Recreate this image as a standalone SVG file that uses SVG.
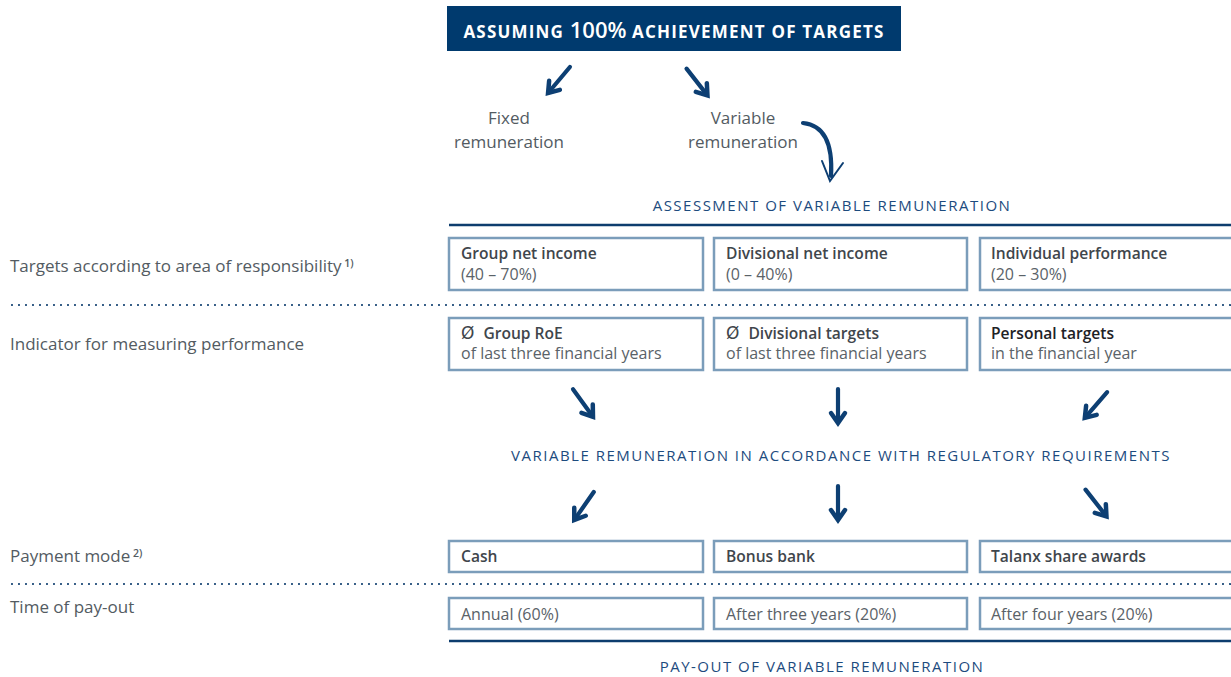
<svg xmlns="http://www.w3.org/2000/svg" width="1231" height="677" viewBox="0 0 1231 677">
<style>
text{font-family:"Open Sans","Liberation Sans",sans-serif;}
.lbl{font-size:17px;fill:#535b62;}
.bx{fill:#fff;stroke:#7b9dba;stroke-width:2.5;}
.bt{font-size:15.6px;fill:#3f464c;font-weight:600;}
.bk{font-size:15.6px;fill:#1e2226;font-weight:600;}
.rt{font-size:16px;fill:#5a6268;}
.cap{font-size:15px;fill:#1d4b7e;letter-spacing:1.5px;}
.dia{font-weight:400;font-size:17px;font-family:"DejaVu Sans",sans-serif;}
.thick{stroke:#0d3d6e;stroke-width:2.5;}
.dot{stroke:#0d3d6e;stroke-width:2.2;stroke-dasharray:0 7;stroke-linecap:round;}
.arr{fill:none;stroke:#0d3f73;stroke-width:4.2;stroke-linecap:round;stroke-linejoin:round;}
.ah{fill:none;stroke:#0d3f73;stroke-width:4.5;stroke-linecap:round;stroke-linejoin:miter;}
</style>
<defs>
<g id="harrow">
<path class="arr" d="M0,-17 L0,16"/>
<path class="ah" d="M-7,7 L0,17 L7,7"/>
</g>
</defs>
<rect width="1231" height="677" fill="#fff"/>

<g id="header">
<rect x="447" y="6" width="454" height="45" fill="#003a6e"/>
<text x="674" y="38" text-anchor="middle" font-size="17" font-weight="700" fill="#fff" letter-spacing="1.2">ASSUMING <tspan font-size="22" font-weight="600" letter-spacing="0">100%</tspan> ACHIEVEMENT OF TARGETS</text>
</g>

<g id="fixed">
<text class="lbl" x="509" y="124" text-anchor="middle" font-size="18">Fixed</text>
<text class="lbl" x="509" y="148" text-anchor="middle" font-size="18">remuneration</text>
</g>
<g id="variable">
<text class="lbl" x="743" y="124" text-anchor="middle" font-size="18">Variable</text>
<text class="lbl" x="743" y="148" text-anchor="middle" font-size="18">remuneration</text>
</g>

<g id="assessment">
<text class="cap" x="832" y="211" text-anchor="middle">ASSESSMENT OF VARIABLE REMUNERATION</text>
<line class="thick" x1="449" y1="225" x2="1231" y2="225"/>
</g>

<g id="row-labels">
<text class="lbl" x="10" y="272">Targets according to area of responsibility<tspan font-size="10.5" dy="-5" font-weight="600"> 1)</tspan></text>
<text class="lbl" x="10" y="350">Indicator for measuring performance</text>
<text class="lbl" x="10" y="562">Payment mode<tspan font-size="10.5" dy="-5" font-weight="600"> 2)</tspan></text>
<text class="lbl" x="10" y="613">Time of pay-out</text>
</g>

<g id="dividers">
<line class="dot" x1="12" y1="305" x2="1231" y2="305"/>
<line class="dot" x1="12" y1="584" x2="1231" y2="584"/>
</g>

<g id="group-net-income">
<rect class="bx" x="449" y="238" width="254" height="52"/>
<text class="bt" x="461" y="259">Group net income</text>
<text class="rt" x="461" y="280">(40 – 70%)</text>
</g>
<g id="divisional-net-income">
<rect class="bx" x="714" y="238" width="253" height="52"/>
<text class="bt" x="726" y="259">Divisional net income</text>
<text class="rt" x="726" y="280">(0 – 40%)</text>
</g>
<g id="individual-performance">
<rect class="bx" x="980" y="238" width="260" height="52"/>
<text class="bt" x="991" y="259">Individual performance</text>
<text class="rt" x="991" y="280">(20 – 30%)</text>
</g>

<g id="group-roe">
<rect class="bx" x="449" y="318" width="254" height="52"/>
<text class="bt" x="461" y="339"><tspan class="dia">Ø</tspan><tspan dx="9">Group RoE</tspan></text>
<text class="rt" x="461" y="359">of last three financial years</text>
</g>
<g id="divisional-targets">
<rect class="bx" x="714" y="318" width="253" height="52"/>
<text class="bt" x="726" y="339"><tspan class="dia">Ø</tspan><tspan dx="9">Divisional targets</tspan></text>
<text class="rt" x="726" y="359">of last three financial years</text>
</g>
<g id="personal-targets">
<rect class="bx" x="980" y="318" width="260" height="52"/>
<text class="bk" x="991" y="339">Personal targets</text>
<text class="rt" x="991" y="359">in the financial year</text>
</g>

<g id="regulatory">
<text class="cap" x="841" y="461" text-anchor="middle">VARIABLE REMUNERATION IN ACCORDANCE WITH REGULATORY REQUIREMENTS</text>
</g>

<g id="cash">
<rect class="bx" x="449" y="541" width="254" height="31"/>
<text class="bt" x="461" y="562">Cash</text>
</g>
<g id="bonus-bank">
<rect class="bx" x="714" y="541" width="253" height="31"/>
<text class="bt" x="726" y="562">Bonus bank</text>
</g>
<g id="talanx-share-awards">
<rect class="bx" x="980" y="541" width="260" height="31"/>
<text class="bt" x="991" y="562">Talanx share awards</text>
</g>

<g id="annual">
<rect class="bx" x="449" y="598" width="254" height="31"/>
<text class="rt" x="461" y="620">Annual (60%)</text>
</g>
<g id="after-three-years">
<rect class="bx" x="714" y="598" width="253" height="31"/>
<text class="rt" x="726" y="620">After three years (20%)</text>
</g>
<g id="after-four-years">
<rect class="bx" x="980" y="598" width="260" height="31"/>
<text class="rt" x="991" y="620">After four years (20%)</text>
</g>

<g id="payout">
<line class="thick" x1="449" y1="641" x2="1231" y2="641"/>
<text class="cap" x="822" y="672" text-anchor="middle">PAY-OUT OF VARIABLE REMUNERATION</text>
</g>

<g id="connectors">
<use href="#harrow" transform="translate(559,80) rotate(40)"/>
<use href="#harrow" transform="translate(697,82) rotate(-38)"/>
<path class="arr" d="M803,123 Q834,126 831,176" stroke-width="3.8"/>
<path fill="none" stroke="#0d3f73" stroke-width="2" stroke-linecap="round" d="M822,161 L830,181 L843,163"/>
<use href="#harrow" transform="translate(583,403) rotate(-36)"/>
<use href="#harrow" transform="translate(838,406)"/>
<use href="#harrow" transform="translate(1096,405) rotate(41)"/>
<use href="#harrow" transform="translate(584,506) rotate(35)"/>
<use href="#harrow" transform="translate(838,503)"/>
<use href="#harrow" transform="translate(1096,503) rotate(-38)"/>
</g>
</svg>
